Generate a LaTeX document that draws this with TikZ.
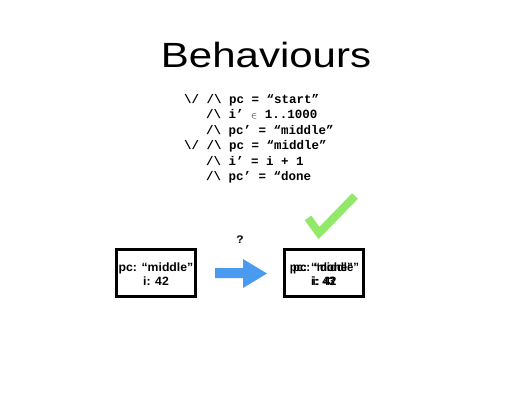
\documentclass[tikz,border=0pt]{standalone}
\usepackage{fontspec}
\setmainfont{Liberation Sans}
\setmonofont{Liberation Mono}
\usetikzlibrary{positioning,calc}
\definecolor{arrowblue}{HTML}{4A9BF0}
\definecolor{tickgreen}{HTML}{92E868}
\tikzset{
  statebox/.style={draw,line width=3pt,minimum width=79pt,minimum height=47pt,inner sep=0pt},
  statetext/.style={font=\fontsize{12}{13.5}\selectfont\bfseries,align=center,xscale=1.02,transform shape,inner sep=0pt},
  codeline/.style={anchor=base west,inner sep=0pt,font=\fontsize{12.5}{14}\selectfont\ttfamily\bfseries}
}
\begin{document}
\begin{tikzpicture}[x=1pt,y=-1pt]
  \useasboundingbox (0,0) rectangle (532,400);
  % Title
  \node[font=\fontsize{35}{40}\selectfont,xscale=1.2,transform shape,anchor=base] (title) at (266,67) {Behaviours};

  % Next-state formula
  \node[codeline] (or1) at (184,103) {\textbackslash/ /\textbackslash{} pc = “start”};
  \node[codeline] (and12) at (206,118.5) {/\textbackslash{} i’ {\small$\in$} 1..1000};
  \node[codeline] (and13) at (206,134) {/\textbackslash{} pc’ = “middle”};
  \node[codeline] (or2) at (184,149.5) {\textbackslash/ /\textbackslash{} pc = “middle”};
  \node[codeline] (and22) at (206,165) {/\textbackslash{} i’ = i + 1};
  \node[codeline] (and23) at (206,180) {/\textbackslash{} pc’ = “done};

  % States
  \node[statebox] (before) at (156,273) {};
  \node[statetext] (beforetext) at ($(before)+(0,1)$) {pc: “middle”\\i: 42};
  \node[statebox] (after) at (324,273) {};
  \node[statetext,xscale=0.93] (aftertext1) at ($(after)+(0.5,1)$) {pc: “middle”\\i: 42};
  \node[statetext,xscale=0.93] (aftertext2) at ($(after)+(-1,1)$) {pc: “done”\\i: 43};

  % Step arrow
  \fill[arrowblue] (215,268) -- (243,268) -- (243,259) -- (267,273.5)
    -- (243,288) -- (243,278) -- (215,278) -- cycle;
  \node[font=\fontsize{11}{13}\selectfont\bfseries,xscale=1.1,transform shape] (question) at (240,240) {?};

  % Tick
  \draw[tickgreen,line width=8pt] (308,218) -- (319,233) -- (355,196);
\end{tikzpicture}
\end{document}
